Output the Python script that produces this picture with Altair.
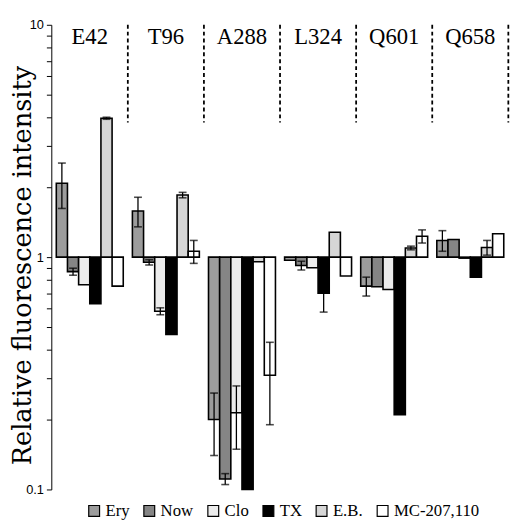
import altair as alt
import pandas as pd

groups = ["E42", "T96", "A288", "L324", "Q601", "Q658"]
series = ["Ery", "Now", "Clo", "TX", "E.B.", "MC-207,110"]

ery = [2.08, 1.58, 0.20, 0.97, 0.75, 1.18]
ery_err = [0.46, 0.23, 0.06, 0.0, 0.07, 0.12]
now = [0.866, 0.95, 0.111, 0.92, 0.745, 1.19]
now_err = [0.03, 0.025, 0.006, 0.04, 0.0, 0.0]
clo = [0.76, 0.585, 0.214, 0.90, 0.725, 0.99]
clo_err = [0.0, 0.02, 0.065, 0.0, 0.0, 0.0]
tx = [0.63, 0.465, 0.1, 0.70, 0.21, 0.82]
tx_err = [0.0, 0.0, 0.0, 0.12, 0.0, 0.0]
eb = [3.96, 1.85, 0.955, 1.28, 1.095, 1.10]
eb_err = [0.04, 0.05, 0.0, 0.0, 0.02, 0.08]
mc = [0.75, 1.06, 0.31, 0.83, 1.23, 1.26]
mc_err = [0.0, 0.12, 0.12, 0.0, 0.08, 0.0]

fills = ["#9c9c9c", "#858585", "#ececec", "#000000", "#d6d6d6", "#ffffff"]

vals = [ery, now, clo, tx, eb, mc]
errs = [ery_err, now_err, clo_err, tx_err, eb_err, mc_err]

rows = []
caps = []
for s, v, e in zip(series, vals, errs):
    for g, vv, ee in zip(groups, v, e):
        rows.append({"group": g, "series": s, "value": vv, "err": ee,
                     "lo": vv - ee, "hi": vv + ee})
        if ee > 0:
            caps.append({"group": g, "series": s, "cap": vv - ee})
            caps.append({"group": g, "series": s, "cap": vv + ee})
df = pd.DataFrame(rows)
cap_df = pd.DataFrame(caps)
grp_df = pd.DataFrame({"group": groups})

xscale = alt.Scale(domain=groups, paddingInner=0, paddingOuter=0.053, align=0.05)
xoscale = alt.Scale(domain=series, paddingInner=0, paddingOuter=0.41)
yscale = alt.Scale(type="log", domain=[0.1, 10], nice=False)

tick_vals = [0.1, 0.2, 0.3, 0.4, 0.5, 0.6, 0.7, 0.8, 0.9,
             1, 2, 3, 4, 5, 6, 7, 8, 9, 10]

yaxis = alt.Axis(
    values=tick_vals,
    labelExpr="datum.value == 10 ? '10' : datum.value == 1 ? '1' : datum.value == 0.1 ? '0.1' : ''",
    title="Relative fluorescence intensity",
    titleFont="DejaVu Serif", titleFontSize=26, titleFontWeight="normal",
    titleColor="black", titleX=-21, titleY=244, titleBaseline="alphabetic",
    titleAlign="center", titleAngle=270,
    labelFont="Liberation Sans", labelFontSize=13, labelColor="black",
    labelPadding=3, labelFlush=False, labelOverlap=False,
    tickSize=5, tickColor="black", domainColor="black", grid=False,
)

X = alt.X("group:N", scale=xscale, axis=None, sort=groups)
XO = alt.XOffset("series:N", scale=xoscale, sort=series)

bars = alt.Chart(df).mark_bar(stroke="black", strokeWidth=1.6).encode(
    x=X, xOffset=XO,
    y=alt.Y("value:Q", scale=yscale, axis=yaxis),
    y2=alt.datum(1),
    fill=alt.Fill("series:N", sort=series,
                  scale=alt.Scale(domain=series, range=fills),
                  legend=alt.Legend(orient="none", legendX=35, legendY=485,
                                    direction="horizontal", title=None,
                                    symbolType="square", symbolSize=121,
                                    symbolStrokeColor="black", symbolStrokeWidth=1.2,
                                    symbolOpacity=1,
                                    labelFont="Liberation Serif", labelFontSize=17,
                                    labelColor="black", columnPadding=11,
                                    labelOffset=3, padding=0)),
)

err = alt.Chart(df).transform_filter("datum.err > 0").mark_rule(
    color="black", strokeWidth=1.3).encode(
    x=X, xOffset=XO, y=alt.Y("lo:Q", scale=yscale), y2="hi:Q")

capm = alt.Chart(cap_df).mark_tick(color="black", thickness=1.6, size=8,
                                   orient="horizontal").encode(
    x=X, xOffset=XO, y=alt.Y("cap:Q", scale=yscale))

seps = alt.Chart(grp_df).mark_rule(color="black", strokeWidth=1.8,
                                    strokeDash=[4, 3]).encode(
    x=alt.X("group:N", scale=xscale, axis=None, sort=groups, bandPosition=1),
    y=alt.datum(10), y2=alt.datum(3.8))

labels = alt.Chart(grp_df).mark_text(font="Liberation Serif", fontSize=23,
                                     baseline="alphabetic", color="black").encode(
    x=alt.X("group:N", scale=xscale, axis=None, sort=groups, bandPosition=0.5),
    y=alt.datum(8.3), text="group:N")

chart = alt.layer(seps, bars, err, capm, labels).properties(
    width=472, height=472,
    autosize=alt.AutoSizeParams(type="none"),
    padding={"left": 44, "top": 13, "right": 0, "bottom": 30},
).configure_view(stroke=None).configure_legend(
    labelFont="Liberation Serif", labelFontSize=17
)

chart.save("out.html", embed_options={"renderer": "svg", "actions": False})
